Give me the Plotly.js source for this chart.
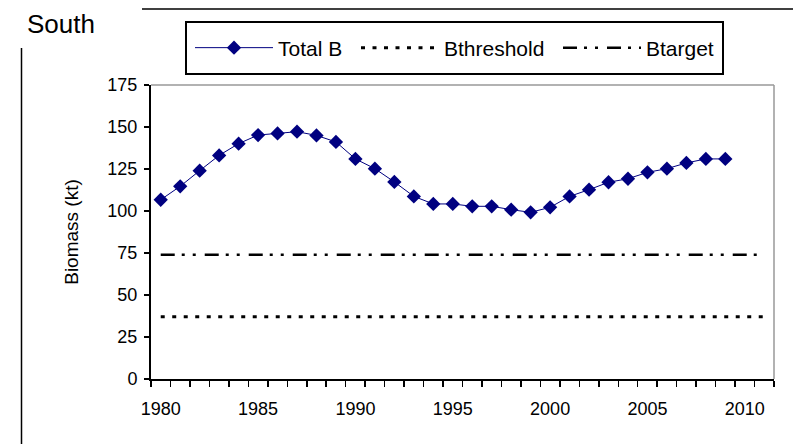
<!DOCTYPE html>
<html>
<head>
<meta charset="utf-8">
<script src="https://cdn.plot.ly/plotly-3.0.1.min.js"></script>
<style>html,body{margin:0;padding:0;background:#fff;}#chart{width:793px;height:444px;}</style>
</head>
<body>
<div id="chart"></div>
<script>
// ---- data ----
const years = [1980,1981,1982,1983,1984,1985,1986,1987,1988,1989,1990,1991,1992,1993,1994,1995,1996,1997,1998,1999,2000,2001,2002,2003,2004,2005,2006,2007,2008,2009];
const totalB = [106.7,114.7,124,133.1,140.1,145.2,146.2,147.2,145,141.1,131,125.2,117.3,108.7,104.2,104.2,102.8,102.8,100.8,99.2,102.2,108.7,112.7,117.1,119.2,123,125.2,128.6,131,131];
const refYears = [1980, 2011];
const bThreshold = [37, 37];
const bTarget = [74, 74];
const xTickVals = [1980,1985,1990,1995,2000,2005,2010];
const xTickText = ['1980','1985','1990','1995','2000','2005','2010'];
const seriesNames = ['Total B','Bthreshold','Btarget'];

const FONT = 'Liberation Sans, Arial, sans-serif';
const NAVY = '#000080';

// pixel helpers for paper coordinates (plot area 151..774 x, 85..379 y)
const PL = 151, PW = 623, PT = 85, PH = 294;
const px = v => (v - PL) / PW;
const py = v => 1 + (PT - v) / PH;

const traces = [
  {x: years, y: totalB, name: seriesNames[0], type: 'scatter', mode: 'lines+markers', legend: 'legend',
   line: {color: NAVY, width: 1}, marker: {symbol: 'diamond', size: 11, color: NAVY}},
  {x: refYears, y: bThreshold, name: seriesNames[1], type: 'scatter', mode: 'lines', legend: 'legend2',
   line: {color: '#000', width: 3, dash: '4px,7.5px'}},
  {x: refYears, y: bTarget, name: seriesNames[2], type: 'scatter', mode: 'lines', legend: 'legend3',
   line: {color: '#000', width: 2.5, dash: '14px,7px,3px,8px,3px,9px'}}
];

const legBase = {orientation: 'h', xanchor: 'left', yanchor: 'middle', y: py(48),
  borderwidth: 0, bgcolor: 'rgba(0,0,0,0)', itemwidth: 78,
  font: {family: FONT, size: 21, color: '#000'}};

const layout = {
  width: 793, height: 444,
  margin: {l: 151, r: 19, t: 85, b: 65, pad: 0},
  paper_bgcolor: '#fff', plot_bgcolor: '#fff',
  font: {family: FONT, color: '#000', size: 18},
  title: {text: 'South', x: 27/793, xanchor: 'left', y: 1 - 24/444, yanchor: 'middle',
          font: {family: FONT, size: 26, color: '#000'}},
  showlegend: true,
  legend: Object.assign({}, legBase, {x: px(190)}),
  legend2: Object.assign({}, legBase, {x: px(356)}),
  legend3: Object.assign({}, legBase, {x: px(558)}),
  xaxis: {range: [1979.5, 2011.5], tickmode: 'array', tickvals: xTickVals, ticktext: xTickText,
          ticks: '', showgrid: false, zeroline: false, showline: true, linecolor: '#000', linewidth: 2,
          tickfont: {family: FONT, size: 18, color: '#000'}, ticklabelstandoff: 12,
          minor: {tick0: 1979.5, dtick: 1, ticks: 'outside', ticklen: 6, tickwidth: 1.5, tickcolor: '#000', showgrid: false},
          fixedrange: true},
  yaxis: {range: [0, 175], tick0: 0, dtick: 25, ticks: 'outside', ticklen: 5, tickwidth: 1.5, tickcolor: '#000',
          showgrid: false, zeroline: false, showline: true, linecolor: '#000', linewidth: 2,
          tickfont: {family: FONT, size: 18, color: '#000'}, ticklabelstandoff: 3,
          title: {text: 'Biomass (kt)', font: {family: FONT, size: 19, color: '#000'}, standoff: 24},
          automargin: false, fixedrange: true},
  shapes: [
    {type: 'line', xref: 'paper', yref: 'paper', x0: 0, x1: 1, y0: 1, y1: 1, line: {color: '#999', width: 1.5}},
    {type: 'line', xref: 'paper', yref: 'paper', x0: 1, x1: 1, y0: 0, y1: 1, line: {color: '#999', width: 1.5}},
    {type: 'line', xref: 'paper', yref: 'paper', x0: px(142), x1: px(793), y0: py(9), y1: py(9), line: {color: '#000', width: 1.5}},
    {type: 'line', xref: 'paper', yref: 'paper', x0: px(21.5), x1: px(21.5), y0: py(48), y1: py(446), line: {color: '#000', width: 1.5}},
    {type: 'rect', xref: 'paper', yref: 'paper', x0: px(186), x1: px(723), y0: py(74), y1: py(22), line: {color: '#000', width: 2}, fillcolor: 'rgba(0,0,0,0)'}
  ]
};

Plotly.newPlot('chart', traces, layout, {staticPlot: true, displayModeBar: false});
</script>
</body>
</html>
